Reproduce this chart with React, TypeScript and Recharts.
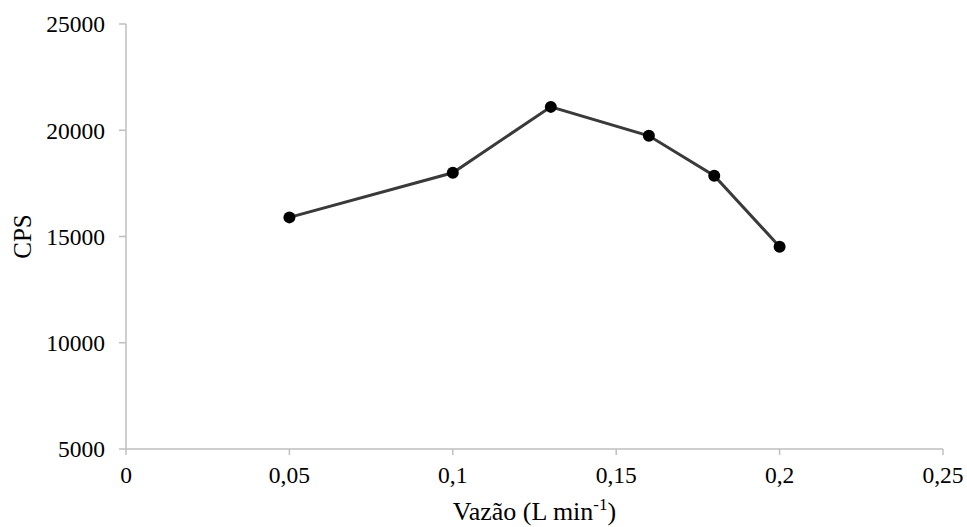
import React from 'react';
import { LineChart, Line, XAxis, YAxis } from 'recharts';

// Flow rate (L/min) against counts per second
const flowRates = [0.05, 0.1, 0.13, 0.16, 0.18, 0.2];
const cpsValues = [15900, 18000, 21100, 19740, 17860, 14520];
const xTicks = [0, 0.05, 0.1, 0.15, 0.2, 0.25];
const yTicks = [5000, 10000, 15000, 20000, 25000];

const data = flowRates.map((x, i) => ({ x, cps: cpsValues[i] }));

const FONT = 'Liberation Serif, Times New Roman, serif';
const AXIS = '#bfbfbf';

const fmt = (v: number) => String(v).replace('.', ',');

const XTitle = (props: any) => {
  const { viewBox } = props;
  const cx = viewBox.x + viewBox.width / 2;
  return (
    <text x={cx} y={viewBox.y + 71} textAnchor="middle" style={{ fontFamily: FONT, fontSize: 26 }} fill="#000">
      <tspan>Vazão (L min</tspan>
      <tspan style={{ fontSize: 17 }} dy={-10}>-1</tspan>
      <tspan dy={10}>)</tspan>
    </text>
  );
};

const YTitle = (props: any) => {
  const { viewBox } = props;
  const cy = viewBox.y + viewBox.height / 2;
  return (
    <text
      x={22}
      y={cy}
      textAnchor="middle"
      dominantBaseline="central"
      style={{ fontFamily: FONT, fontSize: 25 }}
      fill="#000"
      transform={`rotate(-90, 22, ${cy})`}
    >
      CPS
    </text>
  );
};

const tickStyle = { fill: '#000', fontFamily: FONT, fontSize: 23.5 };

const App: React.FC = () => {
  return (
    <div style={{ position: 'absolute', left: 0, top: 0, background: '#fff', fontFamily: FONT }}>
      <LineChart width={967} height={527} data={data} margin={{ top: 24, right: 24, bottom: 18, left: 66 }}>
        <XAxis
          dataKey="x"
          type="number"
          domain={[0, 0.25]}
          ticks={xTicks}
          tickFormatter={fmt}
          stroke={AXIS}
          strokeWidth={1.5}
          tickSize={6}
          tickMargin={11}
          height={60}
          tick={tickStyle}
          label={{ content: XTitle }}
        />
        <YAxis
          type="number"
          domain={[5000, 25000]}
          ticks={yTicks}
          stroke={AXIS}
          strokeWidth={1.5}
          tickSize={7}
          tickMargin={14}
          width={60}
          tick={tickStyle}
          label={{ content: YTitle }}
        />
        <Line
          dataKey="cps"
          stroke="#3a3a3a"
          strokeWidth={3}
          dot={{ r: 6, fill: '#000', stroke: '#000', strokeWidth: 0 }}
          isAnimationActive={false}
        />
      </LineChart>
    </div>
  );
};

export default App;
